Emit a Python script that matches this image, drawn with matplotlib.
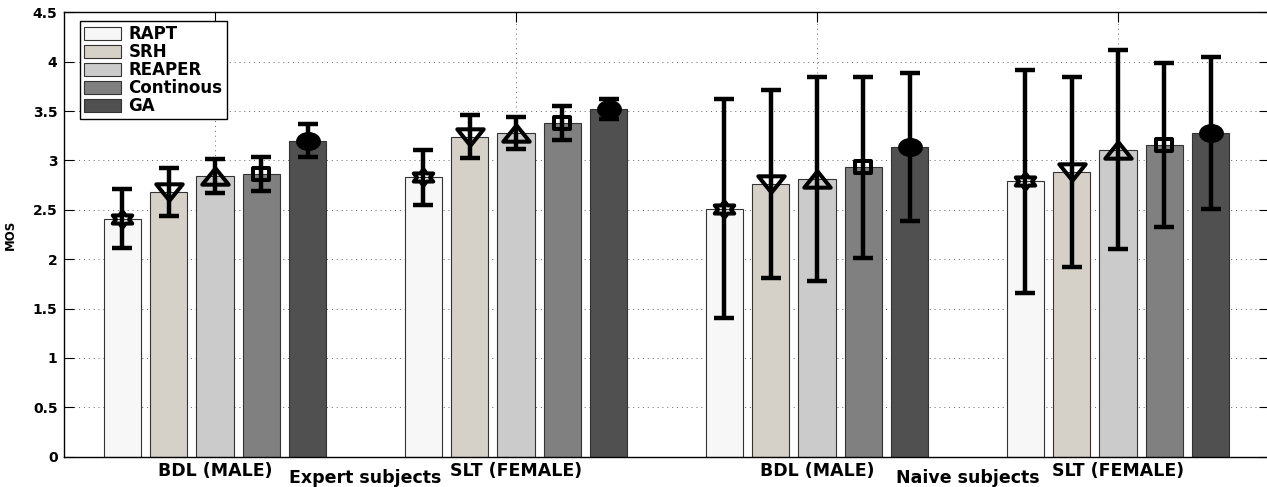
import numpy as np
import matplotlib
matplotlib.use("Agg")
import matplotlib.pyplot as plt
from matplotlib.path import Path
from matplotlib.transforms import Affine2D, blended_transform_factory

# ---- data ----
methods = ["RAPT", "SRH", "REAPER", "Continous", "GA"]
groups = ["BDL (MALE)", "SLT (FEMALE)", "BDL (MALE)", "SLT (FEMALE)"]
subject_labels = ["Expert subjects", "Naive subjects"]

rapt_mos = [2.41, 2.83, 2.51, 2.79]
srh_mos = [2.68, 3.24, 2.76, 2.88]
reaper_mos = [2.84, 3.28, 2.81, 3.11]
cont_mos = [2.86, 3.38, 2.93, 3.16]
ga_mos = [3.20, 3.52, 3.14, 3.28]

rapt_err = [0.30, 0.28, 1.11, 1.13]
srh_err = [0.24, 0.22, 0.95, 0.96]
reaper_err = [0.17, 0.16, 1.03, 1.01]
cont_err = [0.17, 0.17, 0.92, 0.83]
ga_err = [0.17, 0.10, 0.75, 0.77]

yticks = [0, 0.5, 1, 1.5, 2, 2.5, 3, 3.5, 4, 4.5]
yticklabels = ["0", "0.5", "1", "1.5", "2", "2.5", "3", "3.5", "4", "4.5"]

means = [rapt_mos, srh_mos, reaper_mos, cont_mos, ga_mos]
errs = [rapt_err, srh_err, reaper_err, cont_err, ga_err]
colors = ["#f7f7f7", "#d5d0c8", "#cbcbcb", "#808080", "#505050"]


# markers a bit squashed, like the stretched matlab export
def squash(path, fy=0.72):
    return Affine2D().scale(1, fy).transform_path(path)


ang = np.deg2rad(90 + 30 * np.arange(12))
rad = np.where(np.arange(12) % 2 == 0, 1.0, 0.58)
hexagram = squash(Path(np.c_[rad * np.cos(ang), rad * np.sin(ang)][list(range(12)) + [0]], closed=True))
tri_down = Path([(-1, 0.62), (1, 0.62), (0, -0.62), (-1, 0.62)], closed=True)
tri_up = Path([(-1, -0.62), (1, -0.62), (0, 0.62), (-1, -0.62)], closed=True)
rect = squash(Path.unit_rectangle().transformed(Affine2D().translate(-0.5, -0.5).scale(2)))
ellipse = squash(Path.unit_circle())

markers = [hexagram, tri_down, tri_up, rect, ellipse]
msizes = [14, 19, 19, 11.5, 15]
mfaces = ["none", "none", "none", "none", "black"]

plt.rcParams["font.family"] = "DejaVu Sans"
plt.rcParams["font.weight"] = "bold"

fig = plt.figure(figsize=(12.67, 4.87), dpi=100)
ax = fig.add_axes([0.0509, 0.0622, 0.9503, 0.9125])

n = len(methods)
step = 0.1538
width = step * 0.8
x = np.arange(1, len(groups) + 1)

for i in range(n):
    xi = x + (i - (n - 1) / 2) * step
    ax.bar(xi, means[i], width, color=colors[i], edgecolor="0.2",
           linewidth=0.8, label=methods[i], zorder=2)
    ax.errorbar(xi, means[i], yerr=errs[i], fmt="none", ecolor="black",
                elinewidth=3.2, capsize=7, capthick=3.2, zorder=3)
    ax.plot(xi, means[i], linestyle="none", marker=markers[i], markersize=msizes[i],
            markerfacecolor=mfaces[i], markeredgecolor="black",
            markeredgewidth=2.9, zorder=4)

ax.set_xlim(0.5, 4.5)
ax.set_ylim(0, 4.5)
ax.set_xticks(x)
ax.set_xticklabels(groups, fontsize=12.5, fontweight="bold")
ax.set_yticks(yticks)
ax.set_yticklabels(yticklabels, fontsize=10, fontweight="bold")
ax.tick_params(direction="in", length=7, width=0.8, top=True, right=True)
ax.tick_params(axis="x", pad=4)
ax.tick_params(axis="y", pad=5)

ax.grid(True, linestyle=(0, (1, 4)), color="0.4", linewidth=0.7)
ax.set_axisbelow(True)
for s in ax.spines.values():
    s.set_linewidth(1.0)

trans = blended_transform_factory(ax.transData, ax.transAxes)
for k, lab in enumerate(subject_labels):
    ax.text(1.5 + 2 * k, -0.048, lab, transform=trans, ha="center", va="center",
            fontsize=12.5, fontweight="bold")

ax.set_ylabel("MOS", fontsize=8.5, fontweight="bold")
ax.yaxis.set_label_coords(-0.0395, 0.5)

leg = ax.legend(loc="upper left", bbox_to_anchor=(0.0129, 0.981), borderaxespad=0,
                fancybox=False, framealpha=1, edgecolor="black", fontsize=12,
                handlelength=2.2, handleheight=0.85, labelspacing=0.0,
                handletextpad=0.45, borderpad=0.25)
leg.get_frame().set_linewidth(1.0)

fig.savefig("out.png", dpi=100)
